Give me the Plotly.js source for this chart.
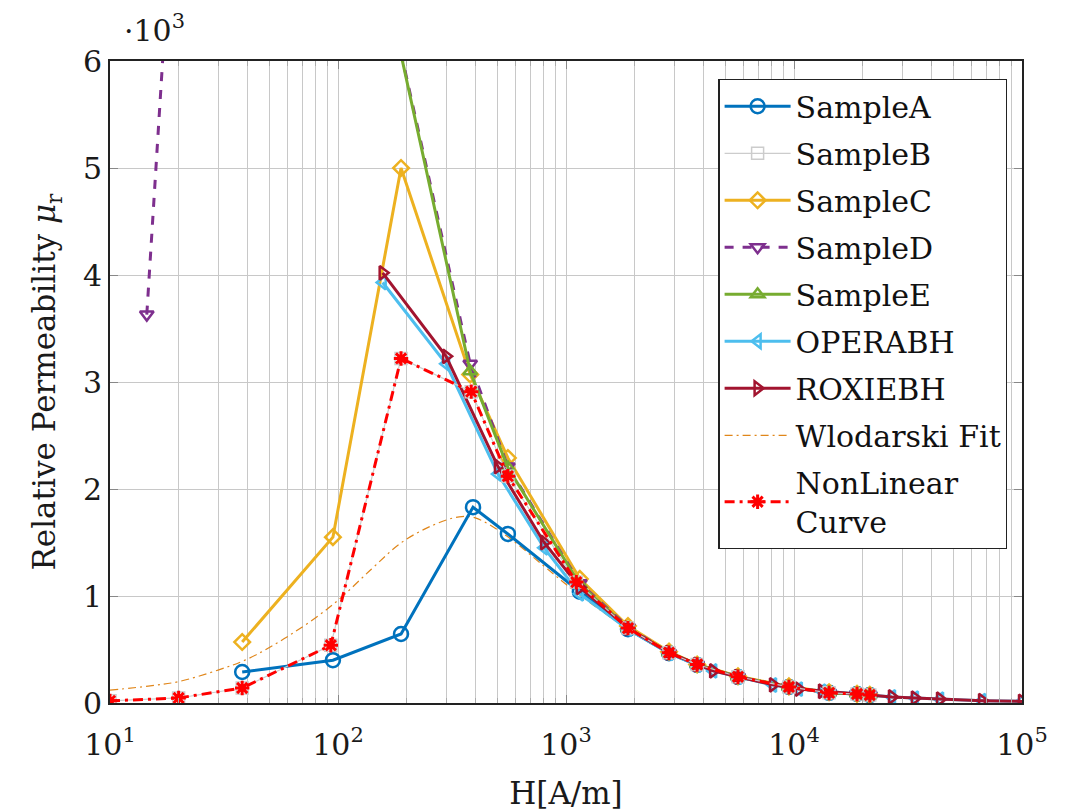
<!DOCTYPE html>
<html>
<head>
<meta charset="utf-8">
<script src="https://cdn.plot.ly/plotly-3.0.1.min.js"></script>
<style>html,body{margin:0;padding:0;background:#fff;}#chart{width:1074px;height:811px;}</style>
</head>
<body>
<div id="chart"></div>
<script>
// values in units of 10^3
const hA = [38, 95, 189, 391, 556, 1150, 1870, 2830, 3760, 5680, 9500, 14250, 18900, 21500];
const muA = [0.29, 0.40, 0.645, 1.83, 1.58, 1.04, 0.69, 0.465, 0.355, 0.243, 0.15, 0.095, 0.084, 0.075];

const hB = [10, 20, 38, 93, 189, 384, 556, 1110, 1870, 2830, 3760, 5680, 9500, 14250, 18900, 21500];
const muB = [0.02, 0.047, 0.14, 0.54, 3.22, 2.91, 2.12, 1.13, 0.70, 0.47, 0.36, 0.245, 0.15, 0.095, 0.084, 0.075];

const hC = [38, 95, 189, 380, 556, 1150, 1870, 2830, 3760, 5680, 9500, 14250, 18900, 21500];
const muC = [0.57, 1.55, 5.0, 3.07, 2.29, 1.16, 0.72, 0.48, 0.36, 0.25, 0.155, 0.10, 0.085, 0.076];

const hD = [14.5, 20, 150, 380, 556, 1150, 1870, 2830, 3760, 5680, 9500, 14250, 18900, 21500];
const muD = [3.63, 8.4, 7.04, 3.17, 2.21, 1.12, 0.71, 0.47, 0.36, 0.245, 0.15, 0.095, 0.084, 0.075];

const hE = [150, 380, 556, 1150, 1870, 2830, 3760, 5680, 9500, 14250, 18900, 21500];
const muE = [7.04, 3.10, 2.20, 1.11, 0.70, 0.47, 0.36, 0.245, 0.15, 0.095, 0.084, 0.075];

const hOpera = [157, 298, 503, 802, 1150, 1870, 2830, 3760, 4420, 5680, 8090, 10500, 13270, 26900, 33900, 43700, 66800, 100000];
const muOpera = [3.93, 3.17, 2.14, 1.45, 1.02, 0.69, 0.465, 0.355, 0.30, 0.243, 0.168, 0.13, 0.11, 0.056, 0.046, 0.036, 0.022, 0.015];

const hRoxie = [157, 298, 503, 802, 1150, 1870, 2830, 3760, 4420, 5680, 8090, 10500, 13270, 26900, 33900, 43700, 66800, 100000];
const muRoxie = [4.02, 3.24, 2.21, 1.50, 1.08, 0.70, 0.47, 0.36, 0.30, 0.245, 0.17, 0.13, 0.11, 0.056, 0.046, 0.036, 0.022, 0.015];

const hFit = [10, 15, 20, 30, 40, 60, 95, 140, 190, 260, 340, 400, 550, 800, 1100, 1870, 2830, 5680, 10500, 21500, 43700, 100000];
const muFit = [0.12, 0.16, 0.2, 0.31, 0.41, 0.62, 0.92, 1.25, 1.5, 1.66, 1.74, 1.73, 1.56, 1.28, 1.04, 0.69, 0.47, 0.245, 0.13, 0.075, 0.036, 0.016];

const hNL = hB;
const muNL = muB;

const xTickVals = [10, 100, 1000, 10000, 100000];
const xTickText = ['10<sup>1</sup>', '10<sup>2</sup>', '10<sup>3</sup>', '10<sup>4</sup>', '10<sup>5</sup>'];
const yTickVals = [0, 1, 2, 3, 4, 5, 6];

const FONT = 'DejaVu Serif, serif';

function tr(name, x, y, color, width, dash, symbol, msize, rank, extra) {
  return Object.assign({
    type: 'scatter', mode: 'lines+markers', name: name, x: x, y: y,
    legendrank: rank, legendgroup: name,
    line: {color: color, width: width, dash: dash},
    marker: {symbol: symbol, size: msize, color: color, line: {color: color, width: 2.5}}
  }, extra || {});
}

const traces = [
  tr('Wlodarski Fit', hFit, muFit, '#E0861A', 1.2, 'dashdot', 'circle', 1, 8, {mode: 'lines', line: {color: '#E0861A', width: 1.2, dash: '8px,4px,2px,4px', shape: 'spline'}}),
  tr('SampleA', hA, muA, '#0072BD', 3, 'solid', 'circle-open', 14, 1),
  tr('SampleC', hC, muC, '#EDB120', 3, 'solid', 'diamond-open', 12, 3),
  tr('SampleD', hD, muD, '#7E2F8E', 3, 'dash', 'triangle-down-open', 12, 4),
  tr('SampleE', hE, muE, '#77AC30', 3, 'solid', 'triangle-up-open', 12, 5),
  tr('OPERABH', hOpera, muOpera, '#4DBEEE', 3, 'solid', 'triangle-left-open', 12, 6),
  tr('ROXIEBH', hRoxie, muRoxie, '#A2142F', 3, 'solid', 'triangle-right-open', 12, 7),
  tr('SampleB', hB, muB, '#cccccc', 1.2, 'solid', 'square-open', 12, 2, {marker: {symbol: 'square-open', size: 12, color: '#cccccc', line: {color: '#cccccc', width: 1.5}}}),
  tr('NonLinear<br>Curve', hNL, muNL, '#FF0000', 3, '10px,5px,3px,5px', 'asterisk-open', 12, 9, {marker: {symbol: 'asterisk-open', size: 12, color: '#FF0000', line: {color: '#FF0000', width: 3}}})
];

const layout = {
  width: 1074, height: 811,
  margin: {l: 110, r: 52, t: 61, b: 108},
  paper_bgcolor: '#fff', plot_bgcolor: '#fff',
  font: {family: FONT, size: 30, color: '#1a1a1a'},
  showlegend: true,
  legend: {
    x: 0.667, y: 0.972, xanchor: 'left', yanchor: 'top',
    bgcolor: '#fff', bordercolor: '#222', borderwidth: 1.3,
    font: {family: FONT, size: 30, color: '#111'},
    itemwidth: 66,
    traceorder: 'grouped', tracegroupgap: 5
  },
  xaxis: {
    type: 'log', range: [1, 5],
    tickvals: xTickVals, ticktext: xTickText,
    showgrid: true, gridcolor: '#c8c8c8', gridwidth: 1,
    ticks: 'inside', ticklen: 8, tickcolor: '#888',
    ticklabelstandoff: 14,
    minor: {dtick: 'D1', showgrid: true, gridcolor: '#c8c8c8', gridwidth: 1, ticks: 'inside', ticklen: 5, tickcolor: '#aaa'},
    showline: true, linecolor: '#222', linewidth: 2, mirror: 'ticks',
    zeroline: false,
    tickfont: {family: FONT, size: 30, color: '#1a1a1a'},
    title: {text: 'H[A/m]', font: {family: FONT, size: 31, color: '#1a1a1a'}, standoff: 22}
  },
  yaxis: {
    range: [0, 6], tickvals: yTickVals,
    showgrid: true, gridcolor: '#c8c8c8', gridwidth: 1,
    ticks: 'inside', ticklen: 8, tickcolor: '#888',
    showline: true, linecolor: '#222', linewidth: 2, mirror: 'ticks',
    zeroline: false,
    tickfont: {family: FONT, size: 30, color: '#1a1a1a'},
    title: {text: 'Relative Permeability <i>μ</i><sub>r</sub>', font: {family: FONT, size: 31, color: '#1a1a1a'}, standoff: 18}
  },
  annotations: [{
    xref: 'paper', yref: 'paper', x: 0.013, y: 1.05, xanchor: 'left', yanchor: 'middle',
    text: '·10<sup>3</sup>', showarrow: false, font: {family: FONT, size: 30, color: '#1a1a1a'}
  }]
};

Plotly.newPlot('chart', traces, layout, {displayModeBar: false, staticPlot: true});
</script>
</body>
</html>
